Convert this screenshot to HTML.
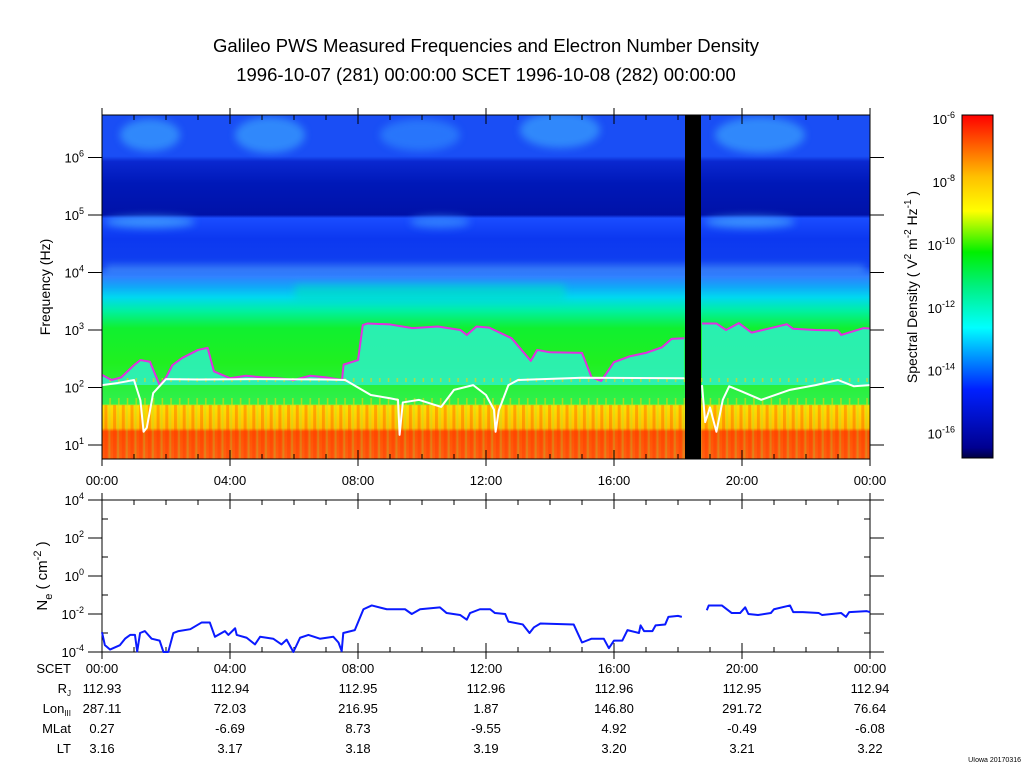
<!DOCTYPE html>
<html><head><meta charset="utf-8">
<style>
html,body{margin:0;padding:0;background:#fff}
svg text{font-family:"Liberation Sans",sans-serif;fill:#000}
</style></head>
<body>
<svg id="chart" width="1024" height="767" viewBox="0 0 1024 767" xmlns="http://www.w3.org/2000/svg">
<defs>
<linearGradient id="specGrad" x1="0" y1="0" x2="0" y2="1">
<stop offset="0" stop-color="#1a4ef5"/>
<stop offset="0.12" stop-color="#1a4ef5"/>
<stop offset="0.135" stop-color="#0a28d0"/>
<stop offset="0.2" stop-color="#0018b8"/>
<stop offset="0.29" stop-color="#0012a8"/>
<stop offset="0.3" stop-color="#1a4cff"/>
<stop offset="0.36" stop-color="#0c38f0"/>
<stop offset="0.44" stop-color="#1040f0"/>
<stop offset="0.47" stop-color="#3080ff"/>
<stop offset="0.5" stop-color="#10a8f8"/>
<stop offset="0.53" stop-color="#00d8f0"/>
<stop offset="0.57" stop-color="#00f0a0"/>
<stop offset="0.62" stop-color="#10f030"/>
<stop offset="0.72" stop-color="#20f020"/>
<stop offset="0.84" stop-color="#30f050"/>
<stop offset="0.845" stop-color="#ffe000"/>
<stop offset="0.91" stop-color="#ffc000"/>
<stop offset="0.92" stop-color="#ff5000"/>
<stop offset="1" stop-color="#ff6010"/>
</linearGradient>
<linearGradient id="cbGrad" x1="0" y1="1" x2="0" y2="0">
<stop offset="0" stop-color="#000040"/>
<stop offset="0.03" stop-color="#000090"/>
<stop offset="0.2" stop-color="#0020ff"/>
<stop offset="0.33" stop-color="#00c0ff"/>
<stop offset="0.38" stop-color="#00ffff"/>
<stop offset="0.5" stop-color="#00f080"/>
<stop offset="0.6" stop-color="#00f000"/>
<stop offset="0.72" stop-color="#ffff00"/>
<stop offset="0.82" stop-color="#ffc000"/>
<stop offset="1" stop-color="#ff0000"/>
</linearGradient>
<pattern id="stripes" width="8.7" height="60" patternUnits="userSpaceOnUse">
<rect x="0" y="0" width="3" height="60" fill="#ff3000" opacity="0.3"/>
<rect x="4" y="0" width="2" height="60" fill="#90f040" opacity="0.25"/>
</pattern>
<pattern id="gstripes" width="8.7" height="30" patternUnits="userSpaceOnUse">
<rect x="5" y="8" width="1.5" height="14" fill="#ffd000" opacity="0.6"/>
</pattern>
<filter id="blur"><feGaussianBlur stdDeviation="4"/></filter>
<clipPath id="specClip"><rect x="102" y="115" width="768" height="344"/></clipPath>
</defs>

<text x="486" y="52" font-size="18.5" text-anchor="middle">Galileo PWS Measured Frequencies and Electron Number Density</text>
<text x="486" y="81" font-size="18.5" text-anchor="middle">1996-10-07 (281) 00:00:00 SCET 1996-10-08 (282) 00:00:00</text>

<g id="spec" clip-path="url(#specClip)">
<rect x="102" y="115" width="768" height="344" fill="url(#specGrad)"/>
<g filter="url(#blur)" opacity="0.6">
<ellipse cx="150" cy="135" rx="30" ry="16" fill="#40b0ff"/>
<ellipse cx="270" cy="135" rx="35" ry="18" fill="#40b0ff"/>
<ellipse cx="420" cy="135" rx="40" ry="16" fill="#3090ff"/>
<ellipse cx="560" cy="130" rx="40" ry="18" fill="#40b0ff"/>
<ellipse cx="760" cy="135" rx="45" ry="18" fill="#40b0ff"/>
<ellipse cx="150" cy="222" rx="45" ry="6" fill="#50c0ff"/>
<ellipse cx="440" cy="222" rx="30" ry="6" fill="#40a0ff"/>
<ellipse cx="750" cy="222" rx="45" ry="6" fill="#50c0ff"/>
<rect x="105" y="266" width="760" height="5" fill="#70d0ff"/>
<rect x="295" y="285" width="270" height="16" fill="#00e0c0"/>
</g>
<g id="patches"></g>
<rect x="102" y="405" width="768" height="54" fill="url(#stripes)"/>
<rect x="102" y="378" width="768" height="27" fill="url(#gstripes)"/>
<g id="lines"></g>
<rect x="685" y="115" width="16" height="344" fill="#000"/>
</g>
<rect x="102" y="115" width="768" height="344" fill="none" stroke="#000" stroke-width="1"/>
<g id="specAxes"></g>

<rect x="962" y="115" width="31" height="343" fill="url(#cbGrad)" stroke="#000" stroke-width="1"/>
<g id="cbAxis"></g>
<text transform="translate(917,287) rotate(-90)" font-size="14" text-anchor="middle">Spectral Density ( V<tspan dy="-6" font-size="10">2</tspan><tspan dy="6"> m</tspan><tspan dy="-6" font-size="10">-2</tspan><tspan dy="6"> Hz</tspan><tspan dy="-6" font-size="10">-1</tspan><tspan dy="6"> )</tspan></text>
<text transform="translate(50,287) rotate(-90)" font-size="14" text-anchor="middle">Frequency (Hz)</text>

<rect x="102" y="500" width="768" height="152" fill="none" stroke="#000" stroke-width="1"/>
<g id="neAxes"></g>
<g id="neLine"></g>
<text transform="translate(47,576) rotate(-90)" font-size="15" text-anchor="middle">N<tspan dy="5" font-size="11">e</tspan><tspan dy="-5"> ( cm</tspan><tspan dy="-6" font-size="11">-2</tspan><tspan dy="6"> )</tspan></text>

<g id="ephem" font-size="13"></g>
<text x="1021" y="762" font-size="7" text-anchor="end">UIowa 20170316</text>
</svg>
<script>
const hourLabels = ["00:00","04:00","08:00","12:00","16:00","20:00","00:00"];
const freqTickExps = [1,2,3,4,5,6];
const cbTickExps = [-6,-8,-10,-12,-14,-16];
const neTickExps = [4,2,0,-2,-4];
const rjVals = ["112.93","112.94","112.95","112.96","112.96","112.95","112.94"];
const lonVals = ["287.11","72.03","216.95","1.87","146.80","291.72","76.64"];
const mlatVals = ["0.27","-6.69","8.73","-9.55","4.92","-0.49","-6.08"];
const ltVals = ["3.16","3.17","3.18","3.19","3.20","3.21","3.22"];

// magenta (fpe) line: hours, Hz
const fpeHours1 = [0,0.3,0.6,1,1.2,1.5,1.8,2,2.2,2.5,3,3.3,3.5,4,4.5,5,5.5,6,6.5,7,7.5,7.55,8,8.15,8.3,9,9.7,10.5,11.2,11.4,11.7,12.1,12.8,13.4,13.6,14,15,15.3,15.6,16,16.5,17,17.5,17.8,18.2];
const fpeHz1 = [166,135,150,245,300,280,110,150,245,325,450,490,190,145,160,150,145,135,160,150,135,250,300,1220,1300,1250,1080,1150,1000,820,1150,1100,720,290,450,410,400,150,130,275,350,400,500,700,720];
const fpeHours2 = [18.75,19.2,19.5,19.9,20.3,20.9,21.4,21.6,22.3,23,23.1,23.8,24];
const fpeHz2 = [1300,1300,1000,1320,900,1080,1260,1050,1000,980,820,1080,1060];
// white line: hours, Hz
const whHours1 = [0,0.5,1,1.2,1.3,1.4,1.6,2,3,5,7,7.6,8,8.4,9,9.25,9.3,9.4,9.9,10.6,11,11.6,12,12.25,12.3,12.4,12.7,13,15,18.2];
const whHz1 = [110,120,135,60,17,20,80,140,138,140,138,135,100,74,65,61,15,55,61,46,91,110,74,41,17,40,110,135,148,145];
const whHours2 = [18.75,18.85,19,19.2,19.4,19.6,20,20.6,21.5,22.3,23,23.5,24];
const whHz2 = [110,25,45,17,61,105,85,61,91,110,135,105,110];
// electron density: hours, log10 Ne
const neHours1 = [0,0.09,0.25,0.56,0.72,0.88,1.03,1.1,1.19,1.34,1.55,1.8,1.92,2.07,2.23,2.39,2.76,3.11,3.37,3.53,3.84,3.95,4.16,4.21,4.52,4.78,4.94,5.35,5.61,5.77,5.98,6.19,6.45,6.81,7.23,7.39,7.49,7.54,7.9,8.17,8.43,8.9,9.47,9.68,9.94,10.56,10.77,11.19,11.4,11.5,11.81,12.13,12.28,12.6,12.7,13.15,13.36,13.5,13.7,14.74,15.0,15.3,15.68,15.84,16.0,16.26,16.42,16.78,16.83,16.94,17.2,17.3,17.6,17.7,18.0,18.12];
const neLog1 = [-2.96,-3.64,-3.87,-3.64,-3.3,-3.1,-3.1,-3.97,-3.0,-2.9,-3.3,-3.4,-4,-4,-3.0,-2.9,-2.8,-2.45,-2.45,-3.2,-2.9,-3.1,-2.75,-3.1,-3.25,-3.6,-3.2,-3.3,-3.6,-3.35,-4,-3.25,-3.1,-3.3,-3.2,-3.5,-3.95,-3.0,-2.85,-1.75,-1.55,-1.75,-1.75,-2.0,-1.75,-1.65,-1.95,-2.05,-2.3,-1.95,-1.75,-1.75,-1.95,-2.0,-2.4,-2.55,-3.0,-2.7,-2.5,-2.55,-3.5,-3.3,-3.3,-3.8,-3.4,-3.4,-2.85,-3.0,-2.6,-2.9,-2.9,-2.6,-2.55,-2.15,-2.1,-2.15];
const neHours2 = [18.9,18.96,19.37,19.68,19.94,20.1,20.2,20.5,20.9,21,21.5,21.6,21.9,22.4,22.5,23.1,23.25,23.35,23.9,24];
const neLog2 = [-1.8,-1.55,-1.55,-1.95,-1.95,-1.65,-2.0,-2.05,-1.95,-1.75,-1.55,-1.9,-1.9,-1.95,-2.05,-1.95,-2.15,-1.9,-1.85,-1.9];

const NS='http://www.w3.org/2000/svg';
const X0=102, X1=870;
function xh(h){return X0+(X1-X0)*h/24;}
function yf(hz){return 445-(Math.log10(hz)-1)*57.5;}
function yne(l){return 652-(l+4)*19;}
function mk(parent,tag,attrs){const e=document.createElementNS(NS,tag);for(const k in attrs)e.setAttribute(k,attrs[k]);document.getElementById(parent).appendChild(e);return e;}
function txt(parent,x,y,s,anchor,size){const t=mk(parent,'text',{x:x,y:y,'text-anchor':anchor,'font-size':size});t.textContent=s;return t;}

function region(hours,vals,name){
  let d='M'+xh(hours[0])+' 385';
  hours.forEach((h,i)=>{d+=' L'+xh(h)+' '+yf(vals[i]);});
  d+=' L'+xh(hours[hours.length-1])+' 385 Z';
  const p=mk('patches','path',{d:d,fill:'#30f0d0',opacity:'0.8'});
  
  
}
region(fpeHours1,fpeHz1,'fpe-cyan-region-1');
region(fpeHours2,fpeHz2,'fpe-cyan-region-2');
function poly(parent,hours,vals,yfn,color,w,name){
  const pts=hours.map((h,i)=>xh(h)+','+yfn(vals[i])).join(' ');
  const p=mk(parent,'polyline',{points:pts,fill:'none',stroke:color,'stroke-width':w,'stroke-linejoin':'round'});
  
  
}
poly('lines',fpeHours1,fpeHz1,yf,'#e030e0',2,'fpe-line-1');
poly('lines',fpeHours2,fpeHz2,yf,'#e030e0',2,'fpe-line-2');
poly('lines',whHours1,whHz1,yf,'#ffffff',2,'cyclotron-line-1');
poly('lines',whHours2,whHz2,yf,'#ffffff',2,'cyclotron-line-2');
poly('neLine',neHours1,neLog1,yne,'#0a1aff',2,'density-line-1');
poly('neLine',neHours2,neLog2,yne,'#0a1aff',2,'density-line-2');

for(let h=0;h<=24;h++){
  const x=xh(h), L=(h%4===0)?9:5;
  [[115,115+L],[459,459-L],[500,500+L],[652,652-L]].forEach(a=>{
    const t=mk('specAxes','line',{x1:x,y1:a[0],x2:x,y2:a[1],stroke:'#000','stroke-width':1});
    
    
  });
  const a2=[[115,108],[459,466],[500,493],[652,659]];
  if(h%4===0) a2.forEach(a=>{const t=mk('specAxes','line',{x1:x,y1:a[0],x2:x,y2:a[1],stroke:'#000','stroke-width':1});});
}
hourLabels.forEach((s,i)=>{const t=txt('specAxes',xh(i*4),485,s,'middle',13);});
freqTickExps.forEach(e=>{
  const y=yf(Math.pow(10,e));
  const l=mk('specAxes','line',{x1:88,y1:y,x2:102,y2:y,stroke:'#000'});
  
  
  const r=mk('specAxes','line',{x1:870,y1:y,x2:884,y2:y,stroke:'#000'});
  
  
  const t=txt('specAxes',84,y+5,'10','end',13);
  
  
  const s=document.createElementNS(NS,'tspan');s.setAttribute('dy','-6');s.setAttribute('font-size','9');s.textContent=e;t.appendChild(s);
});
cbTickExps.forEach(e=>{
  const y=115+(-6-e)/10*343*(10/10.9)+4;
  const t=txt('cbAxis',955,y+5,'10','end',13);
  
  
  const s=document.createElementNS(NS,'tspan');s.setAttribute('dy','-6');s.setAttribute('font-size','9');s.textContent=e;t.appendChild(s);
});
for(let e=-4;e<=4;e++){
  const y=yne(e);
  const l=mk('neAxes','line',{x1:102-(e%2===0?14:0),y1:y,x2:102+(e%2===0?0:6),y2:y,stroke:'#000'});
  
  
  const r=mk('neAxes','line',{x1:870,y1:y,x2:870+(e%2===0?14:0)-(e%2===0?0:6),y2:y,stroke:'#000'});
  
  
}
neTickExps.forEach(e=>{
  const y=yne(e);
  const t=txt('neAxes',84,y+5,'10','end',13);
  
  
  const s=document.createElementNS(NS,'tspan');s.setAttribute('dy','-6');s.setAttribute('font-size','9');s.textContent=e;t.appendChild(s);
});
const rows=[["SCET",hourLabels,673],["R",rjVals,693],["Lon",lonVals,713],["MLat",mlatVals,733],["LT",ltVals,753]];
rows.forEach((r,ri)=>{
  const lab=txt('ephem',71,r[2],r[0],'end',13);
  
  
  if(ri===1||ri===2){const s=document.createElementNS(NS,'tspan');s.setAttribute('font-size','8');s.setAttribute('dy','3');s.textContent=ri===1?'J':'III';lab.appendChild(s);}
  r[1].forEach((v,i)=>{
    const t=txt('ephem',xh(i*4),r[2],v,'middle',13);
    
    
  });
});
</script>
</body></html>
